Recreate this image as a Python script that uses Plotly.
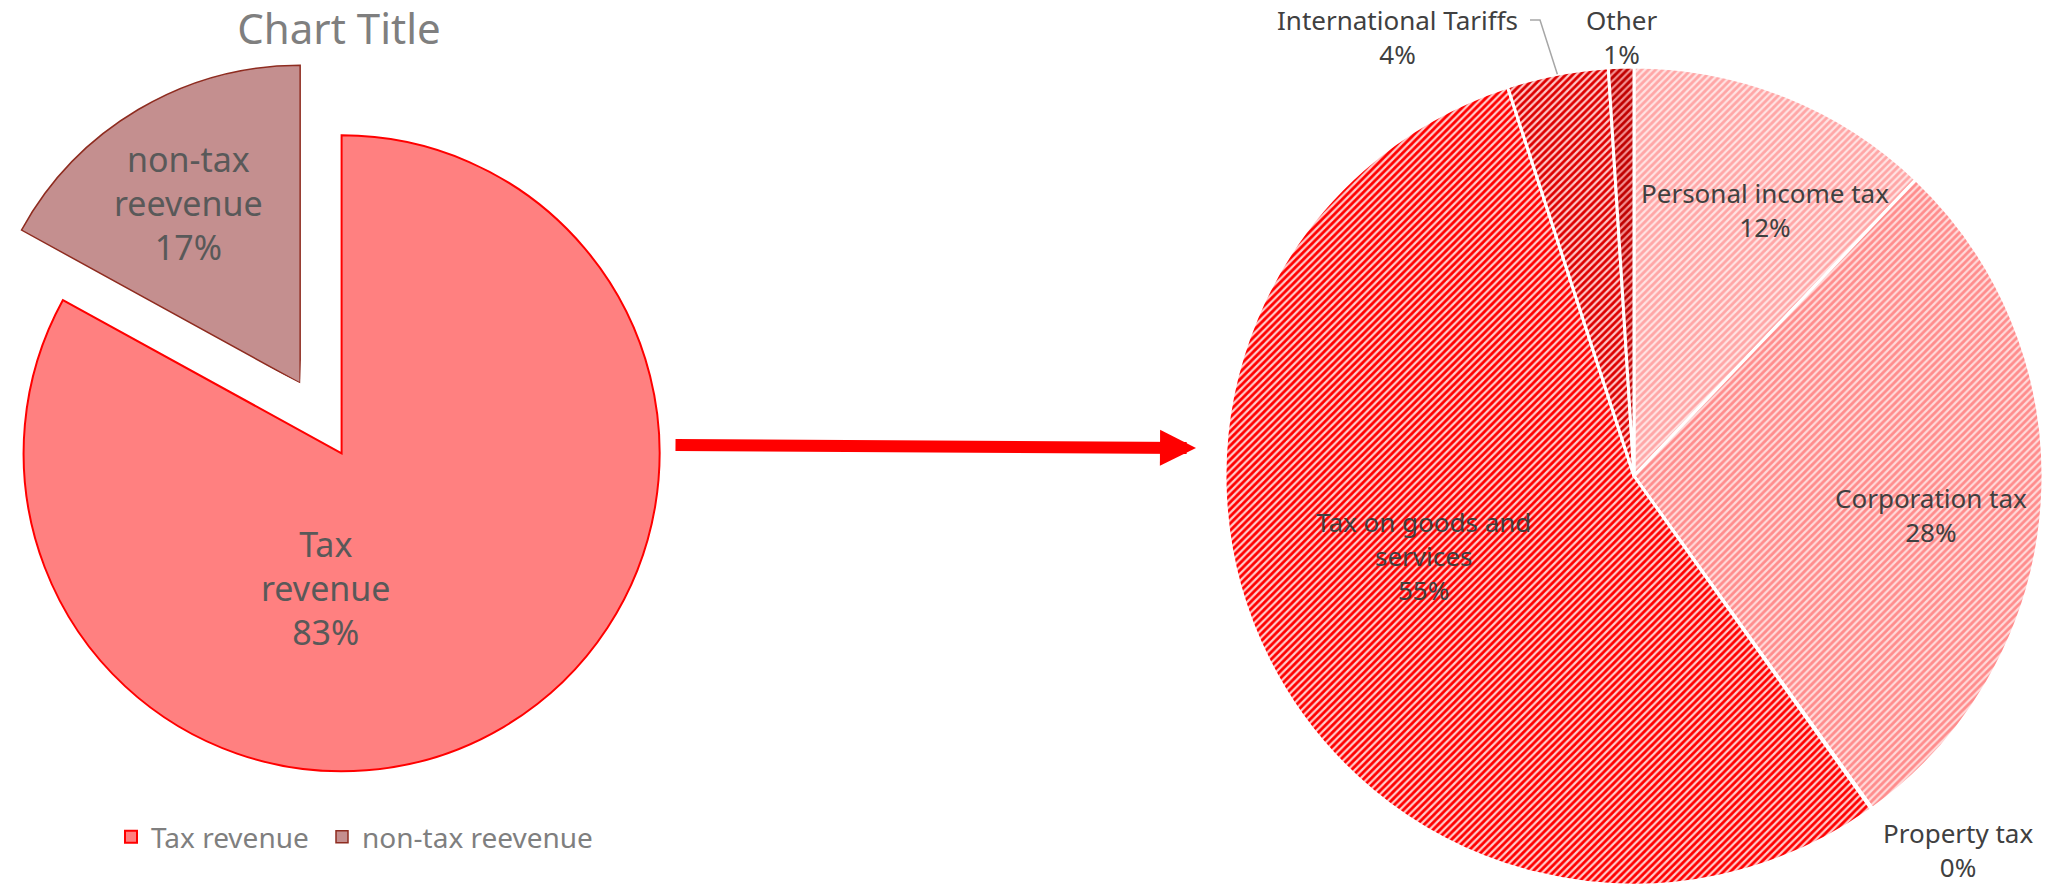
import math
import textwrap
import plotly.graph_objects as go

# ---------------- data ----------------
chart_title = "Chart Title"
rev_labels = ["Tax revenue", "non-tax reevenue"]
rev_values = [83, 17]

tax_labels = ["Personal income tax", "Corporation tax", "Property tax",
              "Tax on goods and services", "International Tariffs", "Other"]
tax_values = [12.1, 28.0, 0.05, 54.85, 4.0, 1.0]

# ---------------- layout constants ----------------
W, H = 2060, 885
FONT = "Noto Sans"


def px(x):
    return x / W


def py(y):
    return 1 - y / H


# left pie geometry (pixels)
L_CX, L_CY, L_R = 341.6, 453.3, 318.0
EXPLODE = 81.4
PAD = 1.02  # radial padding so outlines are not clipped

rev_colors = ["#FF8080", "#C48F8F"]
rev_lines = ["#FF0000", "#8E2C20"]
rev_line_w = [2, 1.5]
legend_x = [111, 322]   # left edge of each legend entry (pixels)

# right pie geometry
R_CX, R_CY, R_R = 1634.0, 476.0, 409.0
tax_bg = ["#FFE3E3", "#FFDADA", "#FFCCCC", "#FFCCCC", "#FFC6C6", "#F29090"]
tax_fg = ["#FFA6A6", "#FF8C8C", "#FF6666", "#FF0000", "#DD0000", "#C00000"]

left_label_pos = {"Tax revenue": (326, 588), "non-tax reevenue": (188, 203)}
right_label_pos = {
    "Personal income tax": (1765, 210),
    "Corporation tax": (1931, 515),
    "Property tax": (1958, 850),
    "Tax on goods and services": (1423, 556),
    "International Tariffs": (1397, 37),
    "Other": (1621, 37),
}
leader_y = 20


def sector_bbox(a0, a1):
    pts = [(0.0, 0.0),
           (math.cos(math.radians(a0)), math.sin(math.radians(a0))),
           (math.cos(math.radians(a1)), math.sin(math.radians(a1)))]
    k = math.ceil(a0 / 90.0) * 90
    while k <= a1:
        pts.append((math.cos(math.radians(k)), math.sin(math.radians(k))))
        k += 90
    xs = [p[0] for p in pts]
    ys = [p[1] for p in pts]
    return min(xs), min(ys), max(xs), max(ys)


def polar_domain(cx, cy, R, sector):
    x0, y0, x1, y1 = sector_bbox(*sector)
    return dict(x=[px(cx + R * x0), px(cx + R * x1)],
                y=[py(cy - R * y0), py(cy - R * y1)])


fig = go.Figure()

# ---------------- left exploded pie (two wedges) ----------------
total_rev = sum(rev_values)
f_tax = rev_values[0] / total_rev
f_nt = rev_values[1] / total_rev

# tax wedge: from top going clockwise
tax_width = 360 * f_tax
tax_theta = 90 - tax_width / 2
fig.add_trace(go.Barpolar(
    r=[1], theta=[tax_theta], width=[tax_width], base=0,
    name=rev_labels[0], subplot="polar", legend="legend",
    marker=dict(color=rev_colors[0], line=dict(color=rev_lines[0], width=rev_line_w[0])),
    hoverinfo="name",
))

# non-tax wedge: from top going counter-clockwise, exploded along its bisector
nt_width = 360 * f_nt
nt_theta = 90 + nt_width / 2
nt_cx = L_CX + EXPLODE * math.cos(math.radians(nt_theta))
nt_cy = L_CY - EXPLODE * math.sin(math.radians(nt_theta))
fig.add_trace(go.Barpolar(
    r=[1], theta=[nt_theta], width=[nt_width], base=0,
    name=rev_labels[1], subplot="polar2", legend="legend2",
    marker=dict(color=rev_colors[1], line=dict(color=rev_lines[1], width=rev_line_w[1])),
    hoverinfo="name",
))

hidden_axes = dict(
    radialaxis=dict(visible=False, range=[0, PAD], showgrid=False, showline=False,
                    showticklabels=False, ticks=""),
    angularaxis=dict(visible=False, showgrid=False, showline=False,
                     showticklabels=False, ticks=""),
    bgcolor="rgba(0,0,0,0)",
)
nt_sector = [90 - 2, 90 + nt_width + 2]

# ---------------- right pie ----------------
fig.add_trace(go.Pie(
    labels=tax_labels, values=tax_values, sort=False, direction="clockwise",
    rotation=0, textinfo="none", showlegend=False,
    domain=dict(x=[px(R_CX - 420), px(R_CX + 420)], y=[0, py(R_CY - R_R)]),
    marker=dict(colors=tax_bg, line=dict(color="#FFFFFF", width=3),
                pattern=dict(shape="/", size=5, solidity=0.55,
                             fgcolor=tax_fg, bgcolor=tax_bg, fgopacity=1)),
))

annotations = []

# left labels
for lab, v in zip(rev_labels, rev_values):
    x, y = left_label_pos[lab]
    txt = "<br>".join(textwrap.wrap(lab, 8)) + "<br>" + f"{round(100 * v / total_rev)}%"
    annotations.append(dict(x=px(x), y=py(y), xref="paper", yref="paper", text=txt,
                            showarrow=False, xanchor="center", yanchor="middle",
                            font=dict(family=FONT, size=34, color="#595959")))

# right labels
total_tax = sum(tax_values)
for lab, v in zip(tax_labels, tax_values):
    x, y = right_label_pos[lab]
    txt = "<br>".join(textwrap.wrap(lab, 21)) + "<br>" + f"{round(100 * v / total_tax)}%"
    annotations.append(dict(x=px(x), y=py(y), xref="paper", yref="paper", text=txt,
                            showarrow=False, xanchor="center", yanchor="middle",
                            font=dict(family=FONT, size=26, color="#404040")))

# big arrow between the charts
annotations.append(dict(x=px(1196), y=py(448), xref="paper", yref="paper", text="",
                        showarrow=True, ax=674 - 1196, ay=445 - 448, axref="pixel", ayref="pixel",
                        arrowhead=2, arrowsize=0.6, arrowwidth=12, arrowcolor="#FF0000",
                        standoff=0))

# leader line for International Tariffs (end point from slice geometry)
cum = sum(tax_values[:4]) + tax_values[4] / 2
ang = math.radians(360 * cum / total_tax)
end_x = R_CX + R_R * math.sin(ang)
end_y = R_CY - R_R * math.cos(ang)
shapes = [dict(type="path", xref="paper", yref="paper",
               path=(f"M {px(1530)} {py(leader_y)} L {px(1540)} {py(leader_y)} "
                     f"L {px(end_x)} {py(end_y)}"),
               line=dict(color="#A6A6A6", width=1.5))]

legend_style = dict(orientation="h", yanchor="middle", xanchor="left",
                    font=dict(family=FONT, size=28, color="#7F7F7F"),
                    bgcolor="rgba(0,0,0,0)")

fig.update_layout(
    width=W, height=H,
    margin=dict(l=0, r=0, t=0, b=0, autoexpand=False),
    paper_bgcolor="#FFFFFF", plot_bgcolor="#FFFFFF",
    polar=dict(domain=polar_domain(L_CX, L_CY, L_R * PAD, [0, 360]), **hidden_axes),
    polar2=dict(domain=polar_domain(nt_cx, nt_cy, L_R * PAD, nt_sector),
                sector=nt_sector, **hidden_axes),
    title=dict(text=chart_title, x=px(339), y=py(29), xref="paper", yref="paper",
               xanchor="center", yanchor="middle",
               font=dict(family=FONT, size=42, color="#7F7F7F")),
    legend=dict(x=px(legend_x[0]), y=py(837), **legend_style),
    legend2=dict(x=px(legend_x[1]), y=py(837), **legend_style),
    annotations=annotations,
    shapes=shapes,
    font=dict(family=FONT),
)

fig.write_html("out.html")
